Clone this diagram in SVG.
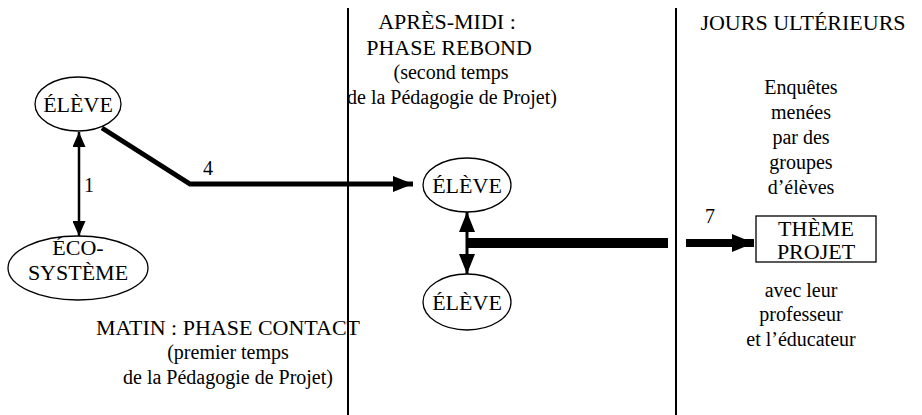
<svg xmlns="http://www.w3.org/2000/svg" width="922" height="415" viewBox="0 0 922 415" font-family="Liberation Serif, DejaVu Serif, serif" font-size="20">
<defs>
<style>
text{font-family:'Liberation Serif','DejaVu Serif',serif;fill:#000;text-anchor:middle}
.cap{font-size:22px}
.low{font-size:20px}
.node ellipse,.node rect{fill:#fff;stroke:#000;stroke-width:1.3}
.div{stroke:#000;stroke-width:2}
.cn{fill:none;stroke:#000;stroke-linejoin:miter}
</style>
<marker id="ahS" markerUnits="userSpaceOnUse" viewBox="0 0 15 13" refX="15" refY="6.5" markerWidth="15" markerHeight="13" orient="auto-start-reverse"><path d="M0,0L15,6.5L0,13Z" fill="#000"/></marker>
<marker id="ahM" markerUnits="userSpaceOnUse" viewBox="0 0 20 16" refX="20" refY="8" markerWidth="20" markerHeight="16" orient="auto-start-reverse"><path d="M0,0L20,8L0,16Z" fill="#000"/></marker>
<marker id="ahL" markerUnits="userSpaceOnUse" viewBox="0 0 22 18" refX="22" refY="9" markerWidth="22" markerHeight="18" orient="auto"><path d="M0,0L22,9L0,18Z" fill="#000"/></marker>
</defs>
<rect width="922" height="415" fill="#fff"/>
<g id="dividers">
<line class="div" x1="348" y1="8" x2="348" y2="415"/>
<line class="div" x1="676" y1="8" x2="676" y2="415"/>
</g>
<g id="labels">
<text class="cap" x="228" y="335">MATIN : PHASE CONTACT</text>
<text class="low" x="228" y="359">(premier temps</text>
<text class="low" x="228" y="384">de la Pédagogie de Projet)</text>
<text class="cap" x="447" y="29">APRÈS-MIDI :</text>
<text class="cap" x="449" y="55">PHASE REBOND</text>
<text class="low" x="451" y="79">(second temps</text>
<text class="low" x="452" y="104">de la Pédagogie de Projet)</text>
<text class="cap" x="803" y="30">JOURS ULTÉRIEURS</text>
<text class="low" x="801" y="94">Enquêtes</text>
<text class="low" x="801" y="119">menées</text>
<text class="low" x="801" y="144">par des</text>
<text class="low" x="801" y="169">groupes</text>
<text class="low" x="801" y="194">d’élèves</text>
<text class="low" x="801" y="297">avec leur</text>
<text class="low" x="801" y="321">professeur</text>
<text class="low" x="801" y="346">et l’éducateur</text>
</g>
<g id="connectors">
<polyline class="cn" points="102,128 190,184 413,184" stroke-width="5" marker-end="url(#ahM)"/>
<line class="cn" x1="79" y1="132" x2="79" y2="236" stroke-width="2.5" marker-start="url(#ahS)" marker-end="url(#ahS)"/>
<text class="low" x="89" y="192">1</text>
<text class="low" x="208" y="175">4</text>
<line class="cn" x1="467" y1="212" x2="467" y2="274" stroke-width="3" marker-start="url(#ahM)" marker-end="url(#ahM)"/>
<line class="cn" x1="467" y1="243" x2="668" y2="243" stroke-width="10"/>
<line class="cn" x1="686" y1="243" x2="754" y2="243" stroke-width="8" marker-end="url(#ahL)"/>
<text class="low" x="710" y="223">7</text>
</g>
<g id="eleve1" class="node">
<ellipse cx="78" cy="104" rx="43" ry="27"/>
<text class="cap" x="78" y="112">ÉLÈVE</text>
</g>
<g id="ecosysteme" class="node">
<ellipse cx="78" cy="268" rx="70" ry="32"/>
<text class="cap" x="78" y="255">ÉCO-</text>
<text class="cap" x="78" y="280">SYSTÈME</text>
</g>
<g id="eleve2" class="node">
<ellipse cx="467" cy="185" rx="44" ry="27"/>
<text class="cap" x="467" y="193">ÉLÈVE</text>
</g>
<g id="eleve3" class="node">
<ellipse cx="467" cy="302" rx="44" ry="28"/>
<text class="cap" x="467" y="310">ÉLÈVE</text>
</g>
<g id="theme" class="node">
<rect x="756" y="216" width="120" height="46"/>
<text class="cap" x="816" y="236">THÈME</text>
<text class="cap" x="816" y="259">PROJET</text>
</g>
</svg>
